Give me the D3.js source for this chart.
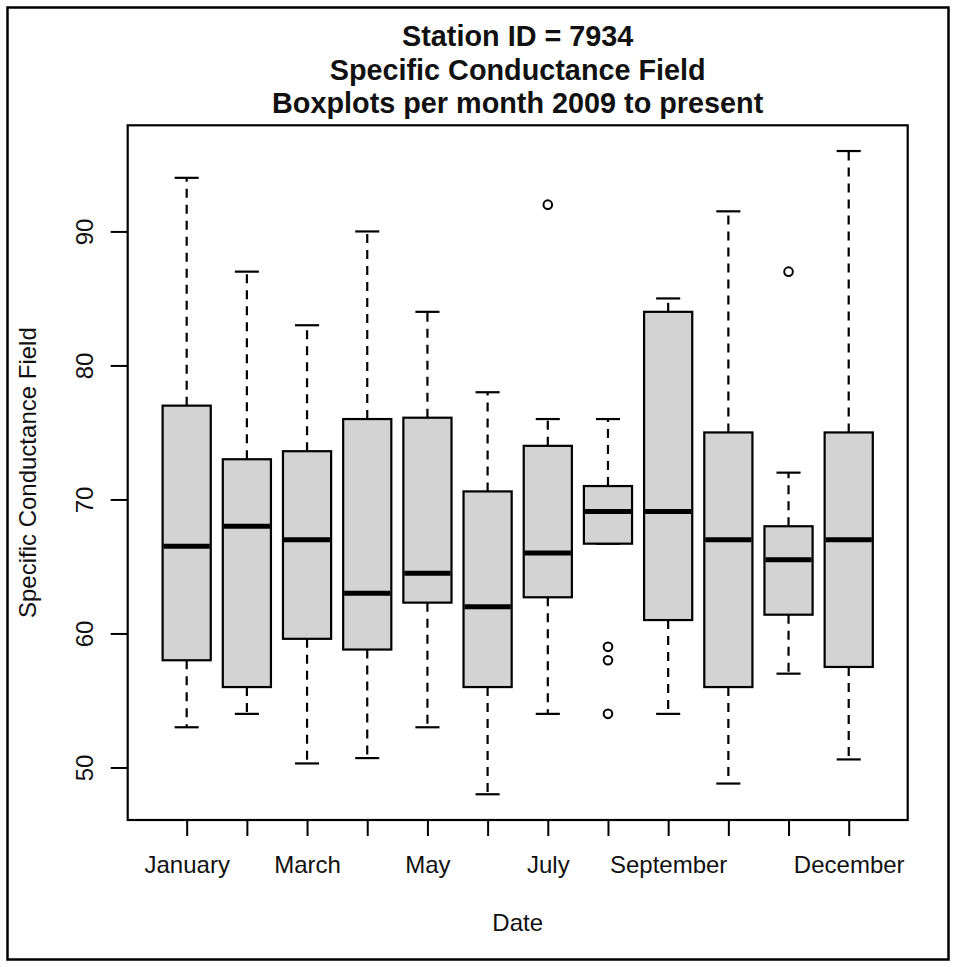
<!DOCTYPE html>
<html>
<head>
<meta charset="utf-8">
<script src="https://cdn.jsdelivr.net/npm/d3@7"></script>
<style>
  html, body { margin: 0; padding: 0; background: #fff; }
  svg { display: block; font-family: "Liberation Sans", Arial, sans-serif; }
</style>
</head>
<body>
<svg id="chart" width="958" height="967"></svg>
<script>
// ---- data ----
const months = ["January","February","March","April","May","June",
                "July","August","September","October","November","December"];
const shownLabels = ["January","March","May","July","September","December"];
const whiskerLow  = [53,   54, 50.3, 50.7, 53,   48,   54,   66.7, 54,   48.8, 57,   50.6];
const q1          = [58,   56, 59.6, 58.8, 62.3, 56,   62.7, 66.7, 61,   56,   61.4, 57.5];
const medians     = [66.5, 68, 67,   63,   64.5, 62,   66,   69.1, 69.1, 67,   65.5, 67];
const q3          = [77,   73, 73.6, 76,   76.1, 70.6, 74,   71,   84,   75,   68,   75];
const whiskerHigh = [94,   87, 83,   90,   84,   78,   76,   76,   85,   91.5, 72,   96];
const outlierMonth = ["July","August","August","August","November"];
const outlierValue = [92,   59,      58,      54,      87];
const yTicks = [50, 60, 70, 80, 90];
const titleLines = ["Station ID = 7934", "Specific Conductance Field", "Boxplots per month 2009 to present"];
const xTitle = "Date";
const yTitle = "Specific Conductance Field";

// ---- layout ----
const svg = d3.select("#chart");
const L = 127.7, R = 907.7, T = 125.3, B = 820;

const n = months.length;
const x = d3.scaleLinear()
  .domain([0.5 - 0.04 * n, n + 0.5 + 0.04 * n])
  .range([L, R]);
const allVals = whiskerLow.concat(whiskerHigh, outlierValue);
const vmin = d3.min(allVals), vmax = d3.max(allVals), span = vmax - vmin;
const y = d3.scaleLinear()
  .domain([vmin - 0.04 * span, vmax + 0.04 * span])
  .range([B, T]);

const unit = x(2) - x(1);
const boxW = 0.8 * unit;
const stapleW = 0.5 * boxW;

const data = months.map((m, i) => ({
  m, i: i + 1, lo: whiskerLow[i], q1: q1[i], med: medians[i], q3: q3[i], hi: whiskerHigh[i]
}));

// outer border
svg.append("rect")
  .attr("x", 7.5).attr("y", 7.5).attr("width", 941).attr("height", 952)
  .attr("fill", "none").attr("stroke", "#000").attr("stroke-width", 2.5);

const g = svg.append("g");

// whiskers
g.selectAll(".wh-up").data(data).join("line")
  .attr("x1", d => x(d.i)).attr("x2", d => x(d.i))
  .attr("y1", d => y(d.q3)).attr("y2", d => y(d.hi))
  .attr("stroke", "#000").attr("stroke-width", 2.2).attr("stroke-dasharray", "9,7");
g.selectAll(".wh-lo").data(data).join("line")
  .attr("x1", d => x(d.i)).attr("x2", d => x(d.i))
  .attr("y1", d => y(d.q1)).attr("y2", d => y(d.lo))
  .attr("stroke", "#000").attr("stroke-width", 2.2).attr("stroke-dasharray", "9,7");

// staples
g.selectAll(".st-up").data(data).join("line")
  .attr("x1", d => x(d.i) - stapleW / 2).attr("x2", d => x(d.i) + stapleW / 2)
  .attr("y1", d => y(d.hi)).attr("y2", d => y(d.hi))
  .attr("stroke", "#000").attr("stroke-width", 2.2);
g.selectAll(".st-lo").data(data).join("line")
  .attr("x1", d => x(d.i) - stapleW / 2).attr("x2", d => x(d.i) + stapleW / 2)
  .attr("y1", d => y(d.lo)).attr("y2", d => y(d.lo))
  .attr("stroke", "#000").attr("stroke-width", 2.2);

// boxes
g.selectAll(".box").data(data).join("rect")
  .attr("x", d => x(d.i) - boxW / 2).attr("width", boxW)
  .attr("y", d => y(d.q3)).attr("height", d => y(d.q1) - y(d.q3))
  .attr("fill", "#d3d3d3").attr("stroke", "#000").attr("stroke-width", 2.2);

// medians
g.selectAll(".med").data(data).join("line")
  .attr("x1", d => x(d.i) - boxW / 2 + 1).attr("x2", d => x(d.i) + boxW / 2 - 1)
  .attr("y1", d => y(d.med)).attr("y2", d => y(d.med))
  .attr("stroke", "#000").attr("stroke-width", 5);

// outliers
g.selectAll(".out").data(outlierValue.map((v, k) => ({ v, i: months.indexOf(outlierMonth[k]) + 1 })))
  .join("circle")
  .attr("cx", d => x(d.i)).attr("cy", d => y(d.v)).attr("r", 4.3)
  .attr("fill", "none").attr("stroke", "#000").attr("stroke-width", 2);

// frame
svg.append("rect")
  .attr("x", L).attr("y", T).attr("width", R - L).attr("height", B - T)
  .attr("fill", "none").attr("stroke", "#000").attr("stroke-width", 2.2);

// x axis
const xAxis = svg.append("g").attr("transform", `translate(0,${B})`)
  .call(d3.axisBottom(x)
    .tickValues(d3.range(1, n + 1))
    .tickSize(16)
    .tickFormat(i => shownLabels.includes(months[i - 1]) ? months[i - 1] : ""));
xAxis.select(".domain").remove();
xAxis.selectAll(".tick line").attr("stroke", "#000").attr("stroke-width", 2);
xAxis.selectAll(".tick text")
  .attr("y", 53).attr("dy", null)
  .attr("fill", "#111").style("font-size", "24px")
  .style("font-family", "'Liberation Sans', Arial, sans-serif");

// y axis
const yAxis = svg.append("g").attr("transform", `translate(${L},0)`)
  .call(d3.axisLeft(y).tickValues(yTicks).tickSize(17).tickFormat(d3.format("d")));
yAxis.select(".domain").remove();
yAxis.selectAll(".tick line").attr("stroke", "#000").attr("stroke-width", 2);
yAxis.selectAll(".tick text")
  .attr("transform", "rotate(-90)")
  .attr("x", 0).attr("y", -35.1).attr("dy", null)
  .attr("text-anchor", "middle")
  .attr("fill", "#111").style("font-size", "24px")
  .style("font-family", "'Liberation Sans', Arial, sans-serif");

// titles
const cx = (L + R) / 2;
svg.append("g").selectAll("text").data(titleLines).join("text")
  .attr("x", cx).attr("y", (d, k) => 46 + k * 33.5)
  .attr("text-anchor", "middle")
  .style("font-size", "28.8px").style("font-weight", "bold")
  .attr("fill", "#111")
  .text(d => d);

svg.append("text")
  .attr("x", cx).attr("y", 931)
  .attr("text-anchor", "middle")
  .style("font-size", "24px").attr("fill", "#111")
  .text(xTitle);

svg.append("text")
  .attr("transform", `translate(35.5,${(T + B) / 2}) rotate(-90)`)
  .attr("text-anchor", "middle")
  .style("font-size", "24px").attr("fill", "#111")
  .text(yTitle);
</script>
</body>
</html>
